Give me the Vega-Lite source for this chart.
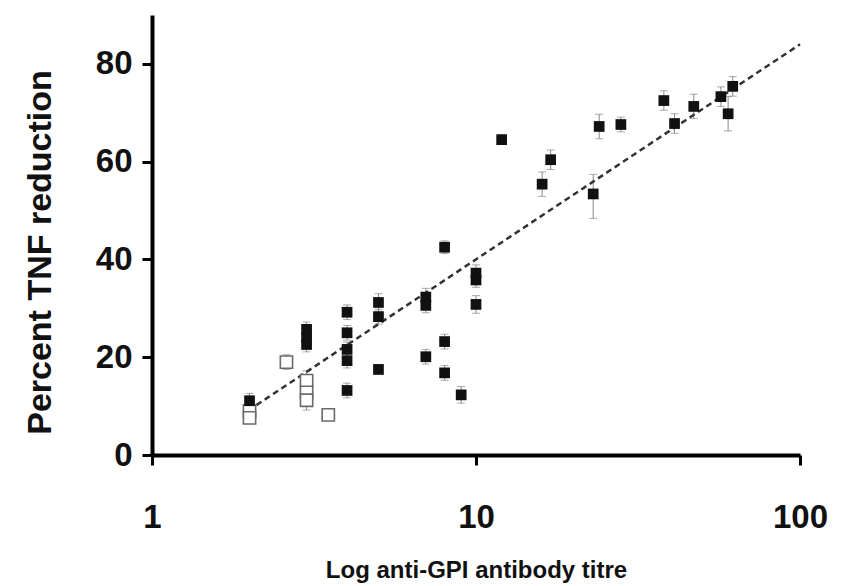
{
  "$schema": "https://vega.github.io/schema/vega-lite/v6.json",
  "width": 648,
  "height": 440,
  "autosize": {"type": "none"},
  "padding": {"left": 152, "top": 15, "right": 41, "bottom": 131},
  "background": "white",
  "config": {
    "view": {"stroke": null},
    "font": "Liberation Sans"
  },
  "datasets": {
    "pts": [
      {"x": 2, "y": 11.1, "lo": 9.6, "hi": 12.6, "g": "filled"},
      {"x": 3, "y": 25.7, "lo": 24.2, "hi": 27.2, "g": "filled"},
      {"x": 3, "y": 24.0, "lo": 22.5, "hi": 25.5, "g": "filled"},
      {"x": 3, "y": 22.6, "lo": 21.1, "hi": 24.1, "g": "filled"},
      {"x": 4, "y": 29.2, "lo": 27.7, "hi": 30.7, "g": "filled"},
      {"x": 4, "y": 25.0, "lo": 23.5, "hi": 26.5, "g": "filled"},
      {"x": 4, "y": 21.6, "lo": 20.1, "hi": 23.1, "g": "filled"},
      {"x": 4, "y": 19.3, "lo": 17.8, "hi": 20.8, "g": "filled"},
      {"x": 4, "y": 13.2, "lo": 11.7, "hi": 14.7, "g": "filled"},
      {"x": 5, "y": 31.2, "lo": 29.4, "hi": 33.0, "g": "filled"},
      {"x": 5, "y": 28.3, "lo": 26.8, "hi": 29.8, "g": "filled"},
      {"x": 5, "y": 17.5, "lo": 16.5, "hi": 18.5, "g": "filled"},
      {"x": 7, "y": 32.3, "lo": 30.5, "hi": 34.1, "g": "filled"},
      {"x": 7, "y": 30.6, "lo": 29.1, "hi": 32.1, "g": "filled"},
      {"x": 7, "y": 20.1, "lo": 18.6, "hi": 21.6, "g": "filled"},
      {"x": 8, "y": 42.5, "lo": 41.2, "hi": 43.8, "g": "filled"},
      {"x": 8, "y": 23.2, "lo": 21.7, "hi": 24.7, "g": "filled"},
      {"x": 8, "y": 16.8, "lo": 15.3, "hi": 18.3, "g": "filled"},
      {"x": 9, "y": 12.3, "lo": 10.6, "hi": 14.0, "g": "filled"},
      {"x": 10, "y": 37.2, "lo": 35.5, "hi": 38.9, "g": "filled"},
      {"x": 10, "y": 35.8, "lo": 34.3, "hi": 37.3, "g": "filled"},
      {"x": 10, "y": 30.8, "lo": 29.0, "hi": 32.6, "g": "filled"},
      {"x": 12, "y": 64.5, "lo": 63.5, "hi": 65.5, "g": "filled"},
      {"x": 16, "y": 55.4, "lo": 52.9, "hi": 57.9, "g": "filled"},
      {"x": 17, "y": 60.4, "lo": 58.4, "hi": 62.4, "g": "filled"},
      {"x": 23, "y": 53.4, "lo": 48.4, "hi": 57.4, "g": "filled"},
      {"x": 24, "y": 67.2, "lo": 64.7, "hi": 69.7, "g": "filled"},
      {"x": 28, "y": 67.6, "lo": 66.1, "hi": 69.1, "g": "filled"},
      {"x": 38, "y": 72.5, "lo": 70.5, "hi": 74.5, "g": "filled"},
      {"x": 41, "y": 67.8, "lo": 65.8, "hi": 69.8, "g": "filled"},
      {"x": 47, "y": 71.3, "lo": 68.8, "hi": 73.8, "g": "filled"},
      {"x": 57, "y": 73.3, "lo": 71.3, "hi": 75.3, "g": "filled"},
      {"x": 60, "y": 69.8, "lo": 66.3, "hi": 73.3, "g": "filled"},
      {"x": 62, "y": 75.4, "lo": 73.4, "hi": 77.4, "g": "filled"},
      {"x": 2, "y": 9.0, "lo": 7.8, "hi": 10.2, "g": "open"},
      {"x": 2, "y": 7.6, "lo": 6.4, "hi": 8.8, "g": "open"},
      {"x": 2.6, "y": 19.0, "lo": 17.5, "hi": 20.5, "g": "open"},
      {"x": 3, "y": 15.2, "lo": 13.2, "hi": 17.2, "g": "open"},
      {"x": 3, "y": 12.8, "lo": 10.8, "hi": 14.8, "g": "open"},
      {"x": 3, "y": 11.2, "lo": 9.2, "hi": 13.2, "g": "open"},
      {"x": 3.5, "y": 8.2, "lo": 7.2, "hi": 9.2, "g": "open"}
    ],
    "fit": [
      {"x": 2.1, "y": 10.2},
      {"x": 100, "y": 84}
    ]
  },
  "encoding": {
    "x": {
      "field": "x", "type": "quantitative",
      "scale": {"type": "log", "domain": [1, 100]},
      "title": "Log anti-GPI antibody titre",
      "axis": {
        "values": [1, 10, 100],
        "grid": false,
        "titleFont": "Liberation Sans",
        "titleFontSize": 24,
        "titleFontWeight": "bold",
        "titleColor": "#111111",
        "titlePadding": 24,
        "labelFont": "Liberation Sans",
        "labelFontSize": 33,
        "labelFontWeight": "bold",
        "labelColor": "#111111",
        "labelPadding": 36,
        "labelFlush": false,
        "labelOverlap": false,
        "domainColor": "#000000",
        "domainWidth": 4,
        "tickColor": "#000000",
        "tickWidth": 3,
        "tickSize": 10
      }
    }
  },
  "layer": [
    {
      "data": {"name": "pts"},
      "mark": {"type": "errorbar", "ticks": {"size": 8, "color": "#888888", "strokeWidth": 1}, "rule": {"color": "#888888", "strokeWidth": 1}},
      "encoding": {
        "y": {"field": "lo", "type": "quantitative", "scale": {"domain": [0, 90]}, "title": "Percent TNF reduction"},
        "y2": {"field": "hi"}
      }
    },
    {
      "data": {"name": "fit"},
      "mark": {"type": "line", "color": "#333333", "strokeWidth": 2.5, "strokeDash": [6, 4]},
      "encoding": {
        "y": {"field": "y", "type": "quantitative", "scale": {"domain": [0, 90]}, "title": "Percent TNF reduction"}
      }
    },
    {
      "data": {"name": "pts"},
      "transform": [{"filter": "datum.g === 'open'"}],
      "mark": {"type": "point", "shape": "square", "size": 150, "filled": false, "fill": "white", "fillOpacity": 1, "stroke": "#6a6a6a", "strokeWidth": 1.6, "opacity": 1},
      "encoding": {
        "y": {"field": "y", "type": "quantitative", "scale": {"domain": [0, 90]}, "title": "Percent TNF reduction"}
      }
    },
    {
      "data": {"name": "pts"},
      "transform": [{"filter": "datum.g === 'filled'"}],
      "mark": {"type": "point", "shape": "square", "size": 115, "filled": true, "color": "#111111", "opacity": 1},
      "encoding": {
        "y": {
          "field": "y", "type": "quantitative",
          "scale": {"domain": [0, 90]},
          "title": "Percent TNF reduction",
          "axis": {
            "values": [0, 20, 40, 60, 80],
            "grid": false,
            "titleFont": "Liberation Sans",
            "titleFontSize": 34,
            "titleFontWeight": "bold",
            "titleColor": "#111111",
            "titlePadding": 38,
            "titleY": 237,
            "labelFont": "Liberation Sans",
            "labelFontSize": 33,
            "labelFontWeight": "bold",
            "labelColor": "#111111",
            "labelPadding": 10,
            "labelFlush": false,
            "domainColor": "#000000",
            "domainWidth": 4,
            "tickColor": "#000000",
            "tickWidth": 3,
            "tickSize": 10
          }
        }
      }
    }
  ]
}
